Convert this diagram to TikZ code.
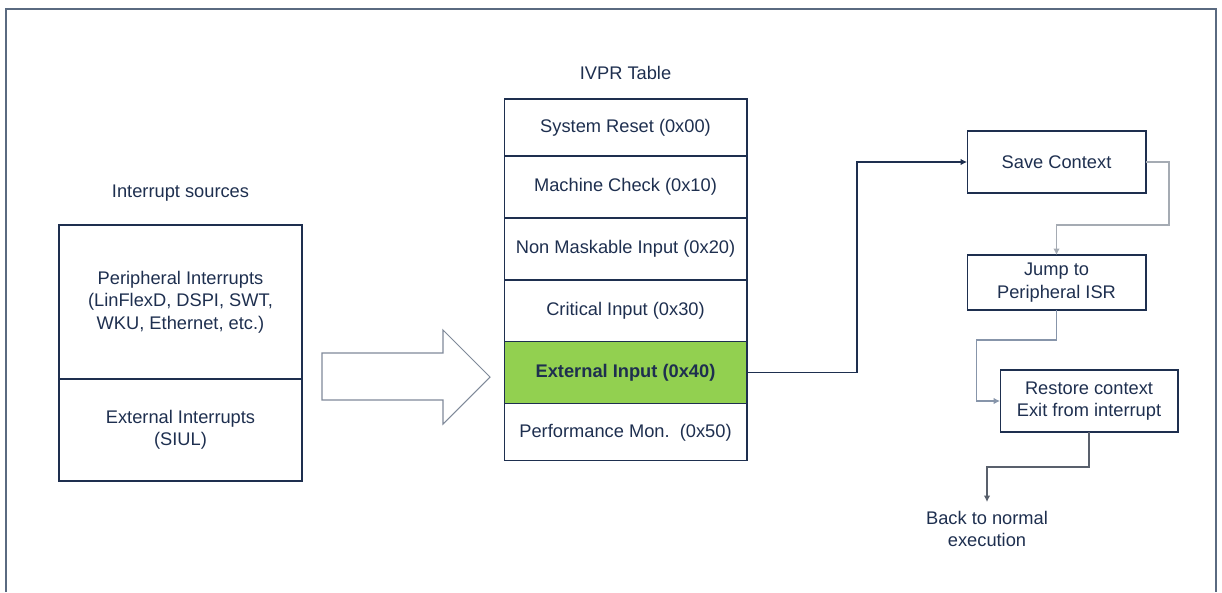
\documentclass[tikz,border=0pt]{standalone}
\usepackage{fontspec}
\setmainfont{Liberation Sans}
\usetikzlibrary{arrows.meta,positioning}
\definecolor{navy}{HTML}{1E2F4F}
\definecolor{framegray}{HTML}{5A6A80}
\definecolor{linkgray}{HTML}{A5ABB3}
\definecolor{linkblue}{HTML}{8795AA}
\definecolor{linkdark}{HTML}{59606C}
\definecolor{arrowgray}{HTML}{7F8999}
\definecolor{hitgreen}{HTML}{92D050}
\begin{document}
\begin{tikzpicture}[x=0.02cm,y=-0.02cm,
  txt/.style={text=navy,align=center,font=\fontsize{10.4pt}{12.8pt}\selectfont},
  box/.style={txt,draw=navy,line width=0.6pt,inner sep=0pt,outer sep=0pt},
  row/.style={box,minimum width=4.86cm,minimum height=1.24cm},
  srcbox/.style={box,minimum width=4.86cm},
  stagebox/.style={box,minimum width=3.58cm},
  link/.style={->,line width=0.6pt},
  >={Latex[length=1.3mm,width=1.3mm]}]
\useasboundingbox (0,0) rectangle (1222,592);
\draw[framegray,line width=0.6pt] (6,592) -- (6,9) -- (1216,9) -- (1216,592);
% interrupt sources
\node[txt] (srctitle) at (180.5,193) {Interrupt sources};
\node[srcbox,minimum height=3.08cm] (periph) at (180.5,302) {Peripheral Interrupts\\(LinFlexD, DSPI, SWT,\\WKU, Ethernet, etc.)};
\node[srcbox,minimum height=2.04cm,below=0pt of periph] (extint) {External Interrupts\\(SIUL)};
% big arrow
\draw[arrowgray,line width=0.6pt] (322,353) -- (443,353) -- (443,330) -- (490,377) -- (443,424) -- (443,400) -- (322,400) -- cycle;
% IVPR table
\node[txt] (ivprtitle) at (625.5,73) {IVPR Table};
\node[row,minimum height=1.14cm] (reset) at (625.5,127.5) {System Reset (0x00)};
\node[row,below=0pt of reset] (mcheck) {Machine Check (0x10)};
\node[row,below=0pt of mcheck] (nmi) {Non Maskable Input (0x20)};
\node[row,below=0pt of nmi] (crit) {Critical Input (0x30)};
\node[row,below=0pt of crit,fill=hitgreen,font=\fontsize{10.4pt}{12.8pt}\selectfont\bfseries] (extin) {External Input (0x40)};
\node[row,minimum height=1.14cm,below=0pt of extin] (perfmon) {Performance Mon.~~(0x50)};
% handler steps
\node[stagebox,minimum height=1.24cm] (save) at (1056.5,162) {Save Context};
\node[stagebox,minimum height=1.1cm] (jump) at (1056.5,282.5) {Jump to\\Peripheral ISR};
\node[box,minimum width=3.56cm,minimum height=1.24cm] (restore) at (1089,401) {Restore context\\Exit from interrupt};
\node[txt,anchor=north,inner sep=5pt] (back) at (987,502) {Back to normal\\execution};
\draw[link,navy] (extin.east) -- ++(110,0) |- (save.west);
\draw[link,linkgray] (save.east) -| ++(23,63) -| (jump.north);
\draw[link,linkblue] (jump.south) |- ++(-80,30) |- (restore.west);
\draw[link,linkdark] (restore.south) |- ++(-102,35) -- (back.north);
\end{tikzpicture}
\end{document}
